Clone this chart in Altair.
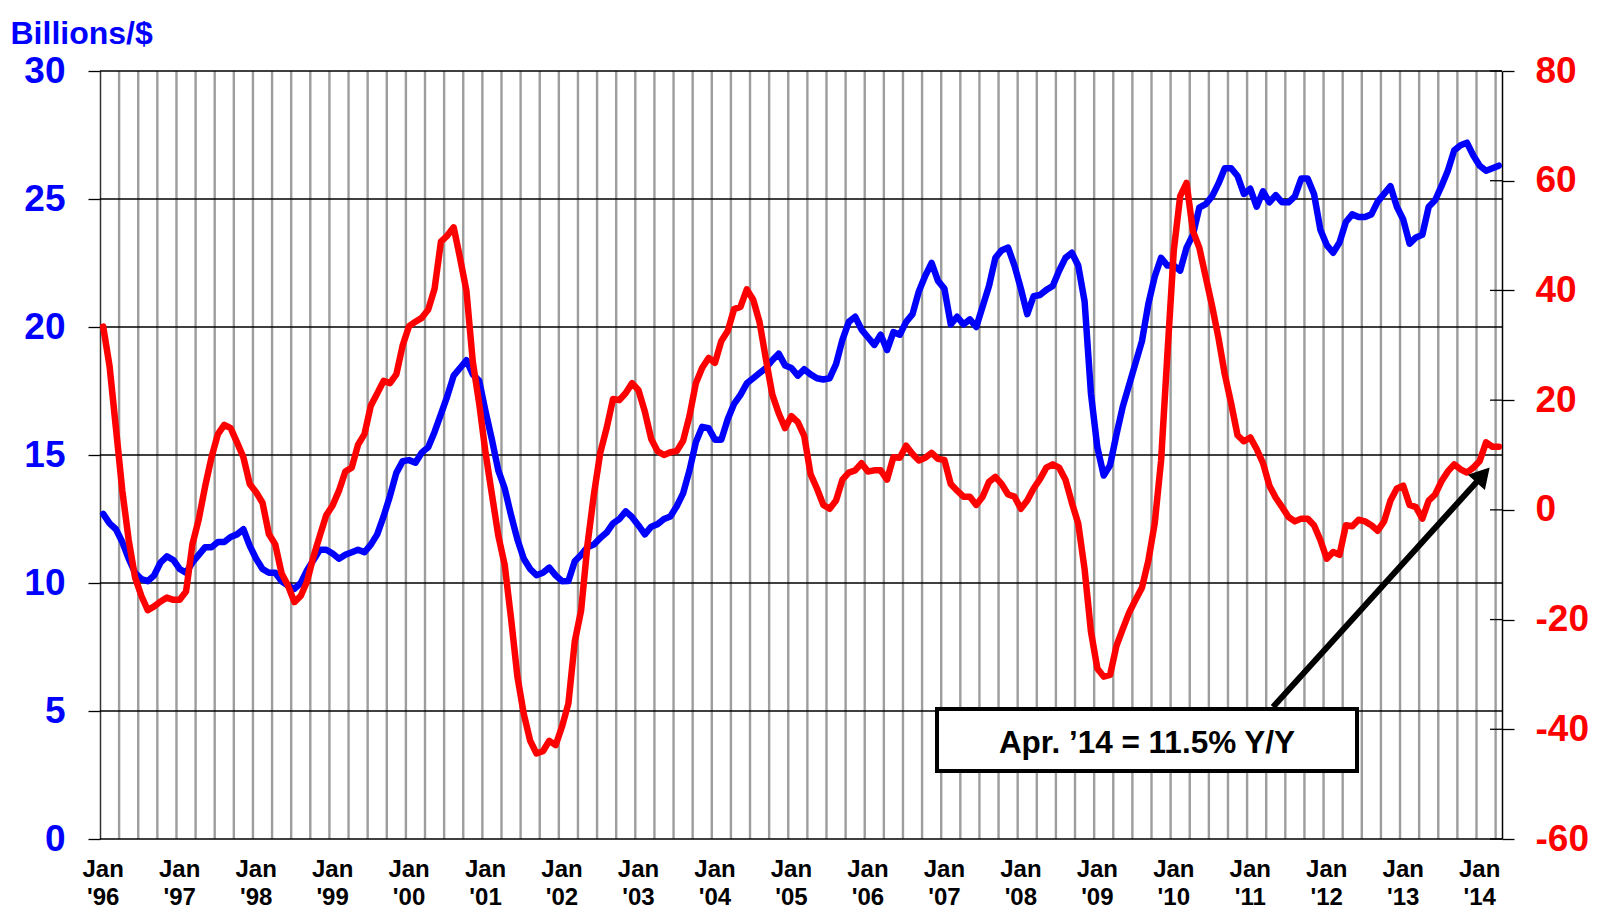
import altair as alt
import pandas as pd

# ---------------- data ----------------
months = pd.date_range("1996-01-01", "2014-04-01", freq="MS").strftime("%Y-%m").tolist()

exports_bn = [
    12.7, 12.33, 12.1, 11.6, 10.95, 10.4, 10.15, 10.07, 10.3, 10.8,
    11.04, 10.9, 10.55, 10.4, 10.8, 11.1, 11.4, 11.4, 11.6, 11.6,
    11.8, 11.9, 12.1, 11.45, 10.95, 10.55, 10.4, 10.4, 10.07, 9.9,
    9.77, 10.0, 10.5, 10.9, 11.3, 11.3, 11.15, 10.95, 11.1, 11.2,
    11.3, 11.2, 11.5, 11.9, 12.6, 13.4, 14.3, 14.76, 14.8, 14.7,
    15.1, 15.3, 15.9, 16.6, 17.3, 18.1, 18.4, 18.7, 18.15, 17.9,
    16.7, 15.6, 14.4, 13.7, 12.65, 11.7, 10.95, 10.55, 10.3, 10.4,
    10.6, 10.3, 10.07, 10.08, 10.85, 11.1, 11.4, 11.5, 11.76, 11.97,
    12.33, 12.5, 12.8, 12.57, 12.25, 11.9, 12.2, 12.3, 12.5, 12.6,
    13.0, 13.5, 14.4, 15.5, 16.1, 16.05, 15.6, 15.6, 16.4, 17.0,
    17.35, 17.8, 18.0, 18.2, 18.4, 18.7, 18.96, 18.5, 18.4, 18.1,
    18.35, 18.15, 18.0, 17.95, 18.0, 18.55, 19.5, 20.2, 20.4, 19.9,
    19.6, 19.3, 19.7, 19.1, 19.8, 19.7, 20.2, 20.5, 21.4, 22.0,
    22.5, 21.8, 21.5, 20.1, 20.4, 20.1, 20.3, 20.0, 20.8, 21.6,
    22.7, 23.0, 23.1, 22.4, 21.5, 20.5, 21.2, 21.25, 21.45, 21.6,
    22.2, 22.7, 22.9, 22.4, 21.0, 17.4, 15.3, 14.2, 14.6, 15.8,
    16.9, 17.75, 18.6, 19.45, 20.9, 21.96, 22.7, 22.4, 22.4, 22.2,
    23.1, 23.6, 24.66, 24.8, 25.1, 25.6, 26.2, 26.2, 25.9, 25.2,
    25.4, 24.7, 25.3, 24.87, 25.15, 24.87, 24.87, 25.1, 25.8, 25.8,
    25.2, 23.8, 23.2, 22.9, 23.3, 24.1, 24.4, 24.3, 24.3, 24.4,
    24.9, 25.2, 25.5, 24.7, 24.2, 23.25, 23.5, 23.6, 24.7, 24.95,
    25.5, 26.1, 26.9, 27.1, 27.2, 26.7, 26.3, 26.1, 26.2, 26.3,
]

exports_yoy = [
    33.4, 26.2, 14.9, 3.5, -5.5, -12.3, -15.7, -18.3, -17.6, -16.7,
    -16.0, -16.4, -16.4, -14.9, -6.3, -1.7, 4.3, 9.6, 13.8, 15.5,
    14.9, 12.3, 9.6, 4.7, 3.2, 1.3, -4.4, -6.3, -11.6, -13.8,
    -16.8, -15.7, -13.0, -8.5, -4.7, -1.0, 0.8, 3.5, 7.0, 7.7,
    11.9, 13.8, 19.0, 21.2, 23.5, 23.1, 24.7, 30.0, 33.5, 34.3,
    35.0, 36.5, 40.3, 48.9, 50.0, 51.5, 45.9, 39.9, 27.0, 19.4,
    10.4, 2.8, -4.7, -10.0, -19.8, -30.4, -37.2, -42.1, -44.4, -44.0,
    -42.1, -42.9, -39.5, -35.3, -24.0, -18.3, -6.3, 2.8, 10.4, 14.9,
    20.2, 20.0, 21.3, 23.1, 21.8, 17.9, 12.9, 10.7, 10.0, 10.5,
    10.7, 12.6, 17.1, 23.1, 25.9, 27.7, 26.8, 30.8, 32.6, 36.6,
    37.0, 40.2, 38.3, 34.2, 27.4, 21.0, 17.6, 14.9, 17.1, 16.0,
    13.5, 6.5, 3.9, 0.9, 0.2, 1.7, 5.5, 6.8, 7.2, 8.5,
    7.0, 7.2, 7.2, 5.5, 9.6, 9.5, 11.7, 10.2, 9.0, 9.5,
    10.4, 9.3, 9.1, 4.7, 3.5, 2.4, 2.4, 0.9, 2.4, 5.1,
    6.0, 4.7, 2.8, 2.4, 0.2, 1.7, 3.9, 5.6, 7.7, 8.3,
    7.7, 5.5, 1.3, -2.5, -10.8, -22.2, -28.9, -30.4, -30.1, -24.8,
    -21.7, -18.7, -16.4, -14.2, -9.3, -2.5, 8.9, 28.5, 47.3, 57.2,
    59.6, 50.8, 47.8, 42.5, 37.2, 31.4, 24.7, 19.4, 13.6, 12.5,
    13.2, 11.1, 8.5, 4.4, 2.2, 0.5, -1.3, -2.1, -1.6, -1.6,
    -2.8, -5.5, -8.9, -7.7, -8.2, -2.8, -3.0, -1.8, -2.1, -2.8,
    -3.8, -2.1, 1.7, 3.9, 4.4, 0.9, 0.5, -1.6, 1.7, 2.8,
    5.2, 7.0, 8.3, 7.4, 6.8, 7.7, 8.9, 12.3, 11.5, 11.5,
]

year_labels = ["'96", "'97", "'98", "'99", "'00", "'01", "'02", "'03", "'04", "'05",
               "'06", "'07", "'08", "'09", "'10", "'11", "'12", "'13", "'14"]
left_ticks = [0, 5, 10, 15, 20, 25, 30]
right_ticks = [-60, -40, -20, 0, 20, 40, 60, 80]
left_title = "Billions/$"
note_text = "Apr. \u201914 = 11.5% Y/Y"

# ---------------- chart ----------------
FONT = "Liberation Sans"
BLUE = "#0000FF"
RED = "#FF0000"
W, H = 1402, 768
n = len(months)

df = pd.DataFrame({"idx": list(range(n)), "month": months, "bn": exports_bn, "yoy": exports_yoy})
grid_df = pd.DataFrame({"g": [k - 0.5 for k in range(3, n, 3)]})
lab_df = pd.DataFrame({"idx": [12 * k for k in range(len(year_labels))],
                       "m": ["Jan"] * len(year_labels), "yr": year_labels})

xs = alt.Scale(domain=[-0.5, n - 0.5], nice=False, zero=False)
ls = alt.Scale(domain=[0, 30], nice=False, zero=False)
rs = alt.Scale(domain=[-60, 80], nice=False, zero=False)

vgrid = alt.Chart(grid_df).mark_rule(color="#9d9d9d", strokeWidth=2.4).encode(
    x=alt.X("g:Q", scale=xs, axis=None), y=alt.value(0), y2=alt.value(H))

hgrid = alt.Chart(pd.DataFrame({"v": left_ticks})).mark_rule(color="black", strokeWidth=1.3).encode(
    y=alt.Y("v:Q", scale=ls, axis=None), x=alt.value(0), x2=alt.value(W))

rticks = alt.Chart(pd.DataFrame({"v": right_ticks})).mark_rule(color="black", strokeWidth=1.3).encode(
    y=alt.Y("v:Q", scale=rs, axis=None), x=alt.value(W - 12), x2=alt.value(W))

blue = alt.Chart(df).mark_line(color=BLUE, strokeWidth=6.5, strokeJoin="round", strokeCap="round").encode(
    x=alt.X("idx:Q", scale=xs, axis=None),
    y=alt.Y("bn:Q", scale=ls, axis=alt.Axis(
        orient="left", values=left_ticks, grid=False, labelColor=BLUE, labelPadding=23,
        domainColor="#333333",
        title=left_title, titleAngle=0, titleAlign="left", titleBaseline="alphabetic",
        titleX=-90, titleY=-28, titleColor=BLUE, titleFont=FONT, titleFontSize=32,
        titleFontWeight="bold")))

red = alt.Chart(df).mark_line(color=RED, strokeWidth=6.5, strokeJoin="round", strokeCap="round").encode(
    x=alt.X("idx:Q", scale=xs, axis=None),
    y=alt.Y("yoy:Q", scale=rs, axis=alt.Axis(
        orient="right", values=right_ticks, grid=False, labelColor=RED, labelPadding=21,
        labelExpr="'' + datum.value",
        domainColor="black", title=None)))

lab1 = alt.Chart(lab_df).mark_text(font=FONT, fontSize=24, fontWeight="bold", color="black",
                                   align="center", baseline="alphabetic").encode(
    x=alt.X("idx:Q", scale=xs, axis=None), y=alt.value(H + 38), text="m:N")
lab2 = alt.Chart(lab_df).mark_text(font=FONT, fontSize=24, fontWeight="bold", color="black",
                                   align="center", baseline="alphabetic").encode(
    x=alt.X("idx:Q", scale=xs, axis=None), y=alt.value(H + 66), text="yr:N")

note_df = pd.DataFrame({"t": [note_text]})
arrow = alt.Chart(note_df).mark_rule(color="black", strokeWidth=6).encode(
    x=alt.value(1173), y=alt.value(636), x2=alt.value(1383), y2=alt.value(404))
head = alt.Chart(note_df).mark_point(shape="triangle-up", filled=True, size=529, angle=42,
                                     color="black", opacity=1).encode(
    x=alt.value(1383), y=alt.value(404))
box = alt.Chart(note_df).mark_rect(fill="white", stroke="black", strokeWidth=4).encode(
    x=alt.value(837), x2=alt.value(1257), y=alt.value(638), y2=alt.value(700))
note = alt.Chart(note_df).mark_text(font=FONT, fontSize=31.5, fontWeight="bold", color="black",
                                    align="center", baseline="alphabetic").encode(
    x=alt.value(1047), y=alt.value(682), text="t:N")

chart = alt.layer(
    vgrid, hgrid, rticks, blue, red, arrow, head, box, note, lab1, lab2
).resolve_scale(
    y="independent"
).properties(
    width=W, height=H,
    padding={"left": 92, "top": 63, "right": 90, "bottom": 70},
    autosize=alt.AutoSizeParams(type="none"),
).configure_view(
    stroke=None
).configure_axis(
    labelFont=FONT, labelFontSize=37, labelFontWeight="bold",
    tickSize=12, tickColor="black", tickWidth=1.3,
    domainWidth=1.5, labelOverlap=False, labelFlush=False,
)

chart.save("out.html", embed_options={"renderer": "svg", "actions": False})
